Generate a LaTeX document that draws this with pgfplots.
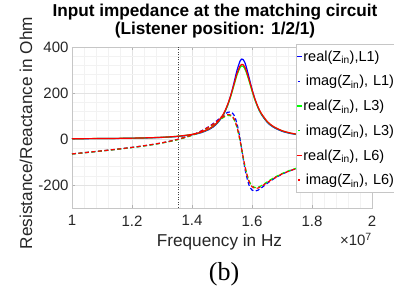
\documentclass[border=0pt]{standalone}
\usepackage{pgfplots}
\pgfplotsset{compat=1.18}
\usepackage{pgfplotstable}
\usepackage{fontspec}
\setmainfont{Liberation Sans}
\newfontfamily\seriffont{Liberation Serif}
\definecolor{tickgray}{rgb}{0.15,0.15,0.15}
\pgfplotsset{imagleg/.style={legend image code/.code={\draw[##1,solid] (1pt,0pt) -- (3.5pt,0pt);}}}

\pgfplotstableread{
f r1 i1 r3 i3 r6 i6
1.00 1.15 -65.0 1.22 -65.3 1.25 -64.9
1.05 1.47 -58.4 1.56 -58.7 1.60 -58.2
1.10 1.90 -51.7 2.02 -52.0 2.07 -51.4
1.15 2.50 -44.5 2.66 -44.9 2.72 -44.3
1.20 3.38 -36.7 3.60 -37.2 3.68 -36.4
1.25 4.72 -27.7 5.03 -28.3 5.14 -27.4
1.30 6.91 -16.8 7.34 -17.6 7.51 -16.5
1.35 10.77 -2.7 11.43 -3.8 11.69 -2.4
1.40 18.47 17.3 19.54 15.6 19.98 17.3
1.43 27.32 34.1 28.76 31.7 29.41 33.8
1.46 43.46 56.8 45.42 53.0 46.44 55.5
1.48 62.49 76.2 64.73 70.6 66.19 73.5
1.50 94.75 98.2 96.68 89.5 98.85 92.9
1.51 119.11 108.8 120.19 97.8 122.89 101.3
1.52 151.48 116.6 150.62 102.8 154.01 106.4
1.53 193.47 117.3 188.79 100.5 193.04 104.0
1.54 244.64 103.8 233.44 85.1 238.69 88.3
1.55 298.33 66.9 278.20 50.2 284.46 52.6
1.56 338.50 2.2 310.40 -6.4 317.38 -5.3
1.565 347.2 -37.7 317.22 -40.3 324.36 -39.9
1.57 346.2 -78.9 316.47 -75.1 323.59 -75.5
1.575 335.8 -118.0 308.27 -108.3 315.2 -109.5
1.58 317.65 -152.0 293.82 -137.8 300.43 -139.7
1.59 268.29 -199.7 253.41 -181.3 259.11 -184.1
1.60 216.47 -221.9 209.12 -203.9 213.82 -207.3
1.61 171.82 -226.8 169.28 -211.4 173.09 -214.9
1.62 136.57 -222.4 136.70 -209.8 139.78 -213.4
1.63 109.64 -213.8 111.10 -203.7 113.60 -207.1
1.65 73.58 -193.6 75.82 -187.0 77.53 -190.0
1.67 52.12 -175.1 54.26 -170.5 55.48 -173.2
1.70 33.77 -153.0 35.46 -150.1 36.26 -152.3
1.73 23.60 -136.6 24.91 -134.5 25.47 -136.5
1.76 17.44 -124.2 18.46 -122.6 18.87 -124.3
1.80 12.41 -111.7 13.16 -110.5 13.46 -112.0
1.85 8.72 -100.3 9.27 -99.4 9.48 -100.6
1.90 6.49 -91.8 6.91 -91.1 7.07 -92.1
1.95 5.05 -85.2 5.37 -84.6 5.49 -85.5
2.00 4.05 -79.8 4.31 -79.3 4.41 -80.1
}\data

\begin{document}
\begin{tikzpicture}
\begin{axis}[
  at={(72pt,81pt)}, anchor=south west,
  width=300pt, height=161pt, scale only axis,
  xmin=1, xmax=2, ymin=-300, ymax=400,
  xtick={1,1.2,1.4,1.6,1.8,2}, xticklabels={1,1.2,1.4,1.6,1.8,2},
  ytick={-200,0,200,400}, yticklabels={-200,0,200,400},
  minor x tick num=4, minor y tick num=4,
  grid=both,
  major grid style={gray!22, line width=0.4pt},
  minor grid style={gray!10, line width=0.3pt},
  axis line style={gray!45},
  tick style={gray!60},
  tick align=inside,
  major tick length=3pt, minor tick length=0pt,
  ticklabel style={font=\fontsize{15}{18}\selectfont, text=tickgray},
  xticklabel style={yshift=-4pt},
  legend style={at={(0.7467,1.0186)}, anchor=north west, draw=gray!45, fill=white,
    inner sep=0pt, row sep=0pt, column sep=1pt,
    nodes={inner sep=0pt, text height=17pt, text depth=7.7pt, text width=100pt,
      font=\fontsize{14.5}{17}\selectfont}},
  legend cell align=left,
  legend image code/.code={\draw[#1] (0pt,0pt) -- (5pt,0pt);},
]
\addplot[forget plot, black!75, line width=0.8pt, dash pattern=on 1pt off 1.5pt] coordinates {(1.356,-300) (1.356,400)};
\addplot[blue, line width=1.2pt, smooth] table[x=f, y=r1] {\data};
\addlegendentry{real(Z\textsubscript{in}),L1)}
\addplot[blue, line width=1.2pt, smooth, dash pattern=on 4pt off 2.5pt, imagleg] table[x=f, y=i1] {\data};
\addlegendentry{\,imag(Z\textsubscript{in}), L1)}
\addplot[green, line width=1.2pt, smooth] table[x=f, y=r3] {\data};
\addlegendentry{real(Z\textsubscript{in}), L3)}
\addplot[green, line width=1.2pt, smooth, dash pattern=on 4pt off 2.5pt, imagleg] table[x=f, y=i3] {\data};
\addlegendentry{\,imag(Z\textsubscript{in}), L3)}
\addplot[red, line width=1.2pt, smooth] table[x=f, y=r6] {\data};
\addlegendentry{real(Z\textsubscript{in}), L6)}
\addplot[red, line width=1.2pt, smooth, dash pattern=on 4pt off 2.5pt, imagleg] table[x=f, y=i6] {\data};
\addlegendentry{\,imag(Z\textsubscript{in}), L6)}
\end{axis}
\node[anchor=base, font=\fontsize{17.2}{20}\selectfont\bfseries] at (215pt,272pt) {Input impedance at the matching circuit};
\node[anchor=base, font=\fontsize{17.2}{20}\selectfont\bfseries] at (215pt,254pt) {(Listener position: 1/2/1)};
\node[anchor=base, font=\fontsize{17.2}{20}\selectfont, text=tickgray] at (219.5pt,42.3pt) {Frequency in Hz};
\node[anchor=base east, inner sep=0pt, font=\fontsize{15}{18}\selectfont, text=tickgray] at (372pt,43pt) {×10\textsuperscript{7}};
\node[rotate=90, anchor=base, font=\fontsize{17.2}{20}\selectfont, text=tickgray] at (32pt,156pt) {Resistance/Reactance in Ohm};
\node[anchor=base, font=\seriffont\fontsize{26}{30}\selectfont] at (224pt,8pt) {(b)};
\pgfresetboundingbox
\useasboundingbox (0,0) rectangle (394pt,289pt);
\end{tikzpicture}
\end{document}
